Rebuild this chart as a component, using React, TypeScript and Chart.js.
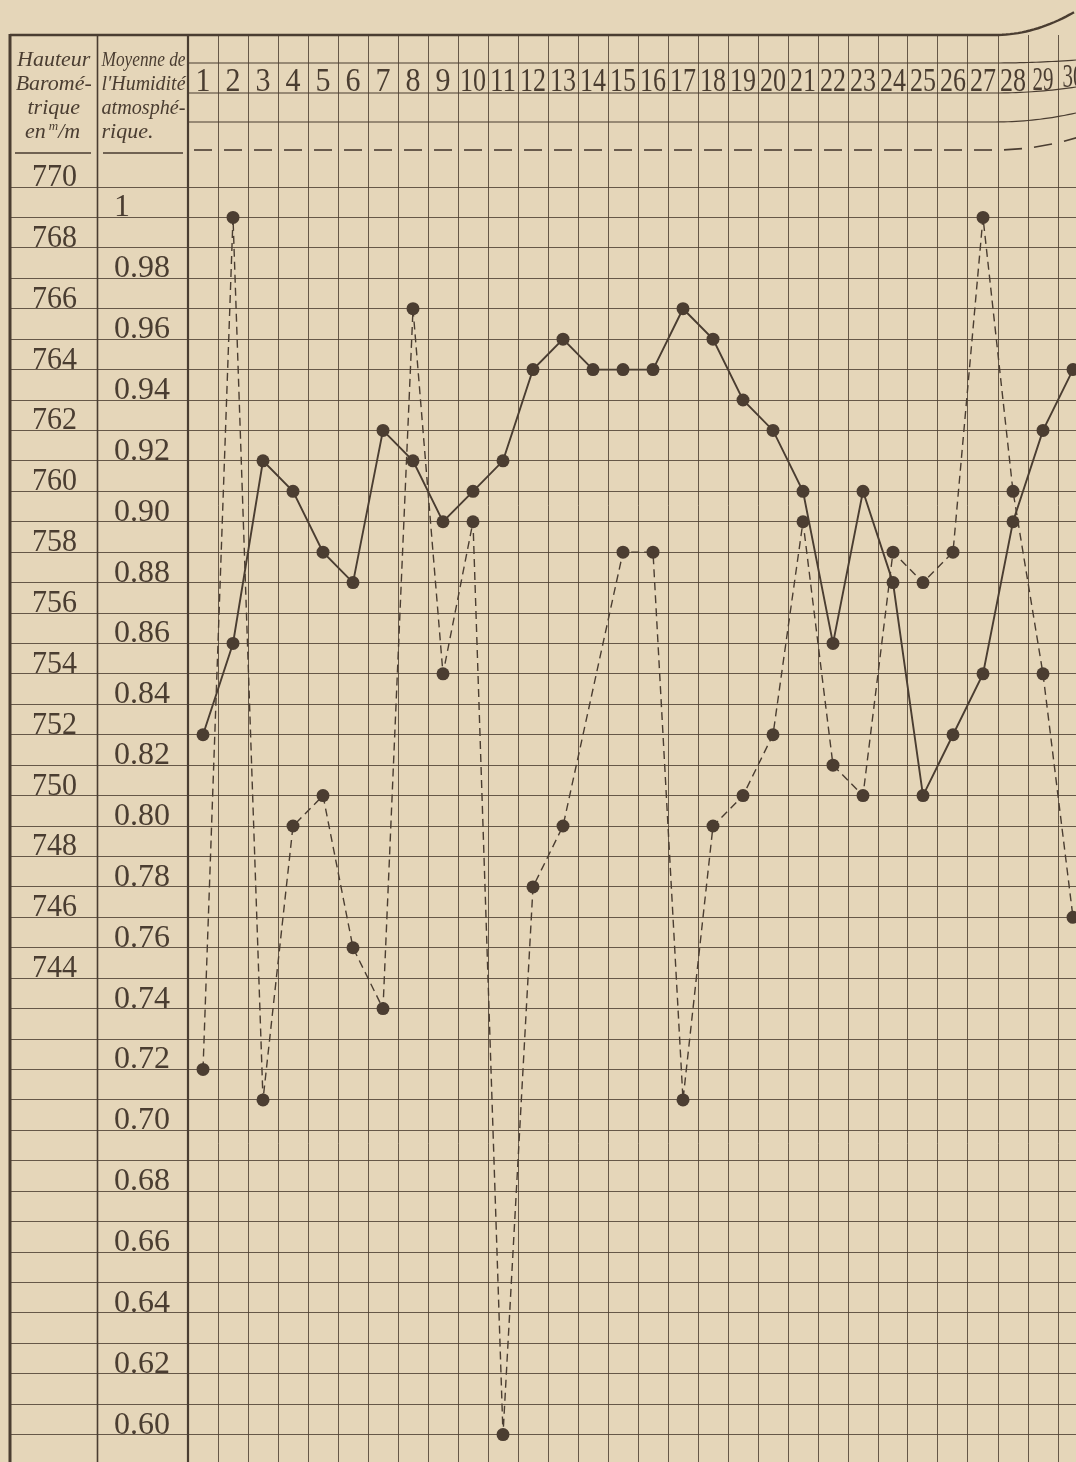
import React, { useEffect, useRef } from 'react';
import { Chart, registerables } from 'chart.js';

Chart.register(...registerables);

// ---- data ----
const days = [1, 2, 3, 4, 5, 6, 7, 8, 9, 10, 11, 12, 13, 14, 15, 16, 17, 18, 19, 20, 21, 22, 23, 24, 25, 26, 27, 28, 29, 30];
// Hauteur barométrique (mm) — solid line
const pressure = [752, 755, 761, 760, 758, 757, 762, 761, 759, 760, 761, 764, 765, 764, 764, 764, 766, 765, 763, 762, 760, 755, 760, 757, 750, 752, 754, 759, 762, 764];
// Moyenne de l'humidité atmosphérique — dashed line (day 14 not plotted)
const humidity = [0.72, 1.0, 0.71, 0.8, 0.81, 0.76, 0.74, 0.97, 0.85, 0.9, 0.6, 0.78, 0.8, null, 0.89, 0.89, 0.71, 0.8, 0.81, 0.83, 0.9, 0.82, 0.81, 0.89, 0.88, 0.89, 1.0, 0.91, 0.85, 0.77];
const pressureTicks = [770, 768, 766, 764, 762, 760, 758, 756, 754, 752, 750, 748, 746, 744];
const humidityTicks = ['1', '0.98', '0.96', '0.94', '0.92', '0.90', '0.88', '0.86', '0.84', '0.82', '0.80', '0.78', '0.76', '0.74', '0.72', '0.70', '0.68', '0.66', '0.64', '0.62', '0.60'];
const headerPressure = ['Hauteur', 'Baromé-', 'trique', 'en m/m'];
const headerHumidity = ['Moyenne de', "l'Humidité", 'atmosphé-', 'rique.'];

// ---- style ----
const W = 1076;
const H = 1462;
const paper = '#e5d6b9';
const ink = '#4a3d31';
const dot = '#4b3d31';
const gridColor = 'rgba(80, 66, 52, 0.85)';
const serif = '"Liberation Serif", "DejaVu Serif", serif';

const OUTER_LEFT = 10;
const TABLE_TOP = 35;
const COL_DIV = 97.5;
const HEADER_ROWS = [63, 93, 122];
const DASH_Y = 150;
const RULE_Y = 153;

function curl(x: number, amt: number) {
  return x > 995 ? amt * Math.pow((x - 995) / 81, 2) : 0;
}

const tablePlugin = {
  id: 'tableChrome',
  beforeDraw(chart: any) {
    const { ctx, width, height } = chart;
    ctx.save();
    ctx.fillStyle = paper;
    ctx.fillRect(0, 0, width, height);
    ctx.restore();
  },
  beforeDatasetsDraw(chart: any) {
    const { ctx, chartArea, scales } = chart;
    const xS = scales.x;
    const yP = scales.yP;
    const yH = scales.yH;
    const L = chartArea.left;
    const R = chart.width;
    const B = chart.height;
    ctx.save();
    ctx.strokeStyle = ink;
    ctx.fillStyle = ink;

    // header horizontal rules (day area)
    ctx.lineWidth = 1.2;
    HEADER_ROWS.forEach((y, k) => {
      ctx.beginPath();
      for (let x = L; x <= R; x += 4) {
        const yy = y - curl(x, 3 + k * 3);
        if (x === L) ctx.moveTo(x, yy); else ctx.lineTo(x, yy);
      }
      ctx.stroke();
    });

    // dashes in the last header row
    ctx.lineWidth = 1.6;
    days.forEach((d) => {
      const cx = xS.getPixelForValue(d);
      ctx.beginPath();
      ctx.moveTo(cx - 9, DASH_Y - curl(cx - 9, 12));
      ctx.lineTo(cx + 9, DASH_Y - curl(cx + 9, 12));
      ctx.stroke();
    });

    // day numbers
    ctx.textAlign = 'center';
    ctx.textBaseline = 'alphabetic';
    ctx.font = `33px ${serif}`;
    days.forEach((d) => {
      const cx = xS.getPixelForValue(d);
      const t = String(d);
      ctx.fillText(t, cx, 91 - curl(cx, 4), t.length === 1 ? 15 : d >= 29 ? 21 : 26);
    });

    // left column headers
    ctx.font = `italic 22px ${serif}`;
    const base = [66, 90, 114, 138];
    headerPressure.forEach((t, i) => {
      if (t === 'en m/m') {
        ctx.textAlign = 'left';
        const x0 = 25;
        ctx.font = `italic 22px ${serif}`;
        ctx.fillText('en', x0, base[i]);
        let w = ctx.measureText('en').width + 3;
        ctx.font = `italic 13px ${serif}`;
        ctx.fillText('m', x0 + w, base[i] - 8);
        w += ctx.measureText('m').width;
        ctx.font = `italic 22px ${serif}`;
        ctx.fillText('/m', x0 + w, base[i]);
      } else {
        ctx.textAlign = 'center';
        ctx.fillText(t, (OUTER_LEFT + COL_DIV) / 2, base[i], 80);
      }
    });
    ctx.textAlign = 'left';
    ctx.font = `italic 22px ${serif}`;
    headerHumidity.forEach((t, i) => {
      ctx.fillText(t, COL_DIV + 4, base[i], 84);
    });

    // short rules under the column headers
    ctx.lineWidth = 1.4;
    ctx.beginPath();
    ctx.moveTo(15, RULE_Y);
    ctx.lineTo(91, RULE_Y);
    ctx.moveTo(103, RULE_Y);
    ctx.lineTo(183, RULE_Y);
    ctx.stroke();

    // scale labels in the two left columns
    ctx.textAlign = 'left';
    ctx.font = `32px ${serif}`;
    pressureTicks.forEach((v) => {
      ctx.fillText(String(v), 32, yP.getPixelForValue(v) - 1, 45);
    });
    humidityTicks.forEach((t) => {
      ctx.fillText(t, 114, yH.getPixelForValue(parseFloat(t)) - 1);
    });

    // table borders
    ctx.lineWidth = 3;
    ctx.beginPath();
    ctx.moveTo(OUTER_LEFT, TABLE_TOP - 1);
    ctx.lineTo(OUTER_LEFT, B);
    ctx.stroke();
    ctx.lineWidth = 2.4;
    ctx.beginPath();
    for (let x = OUTER_LEFT; x <= R; x += 4) {
      const yy = TABLE_TOP - curl(x, 24);
      if (x === OUTER_LEFT) ctx.moveTo(x, yy); else ctx.lineTo(x, yy);
    }
    ctx.stroke();
    ctx.lineWidth = 1.6;
    ctx.beginPath();
    ctx.moveTo(COL_DIV, TABLE_TOP);
    ctx.lineTo(COL_DIV, B);
    ctx.stroke();
    ctx.lineWidth = 2.2;
    ctx.beginPath();
    ctx.moveTo(L, TABLE_TOP);
    ctx.lineTo(L, B);
    ctx.stroke();
    ctx.restore();
  },
};

export default function App() {
  const ref = useRef<HTMLCanvasElement | null>(null);

  useEffect(() => {
    if (!ref.current) return;
    const chart = new Chart(ref.current, {
      type: 'line',
      data: {
        datasets: [
          {
            label: 'Hauteur barométrique',
            data: days.map((d, i) => ({ x: d, y: pressure[i] })),
            yAxisID: 'yP',
            borderColor: ink,
            borderWidth: 1.9,
            pointRadius: 6.5,
            pointBackgroundColor: dot,
            pointBorderWidth: 0,
            tension: 0,
          },
          {
            label: "Moyenne de l'humidité",
            data: days.map((d, i) => ({ x: d, y: humidity[i] })),
            yAxisID: 'yH',
            borderColor: ink,
            borderWidth: 1.4,
            borderDash: [8, 5],
            pointRadius: 6.5,
            pointBackgroundColor: dot,
            pointBorderWidth: 0,
            tension: 0,
            spanGaps: true,
          },
        ],
      } as any,
      options: {
        responsive: false,
        animation: false,
        devicePixelRatio: 1,
        layout: { padding: { left: OUTER_LEFT - 1, top: TABLE_TOP, right: 0, bottom: 0 }, autoPadding: false },
        plugins: { legend: { display: false }, tooltip: { enabled: false }, title: { display: false } },
        scales: {
          x: {
            type: 'linear',
            position: 'top',
            min: 0.5,
            max: 30.1,
            afterBuildTicks: (s: any) => {
              s.ticks = days.map((d) => ({ value: d - 0.5 }));
            },
            ticks: { display: false },
            grid: { color: gridColor, lineWidth: 1, drawTicks: true, tickLength: 152 },
            border: { display: false },
          },
          yP: {
            type: 'linear',
            position: 'left',
            min: 728.1,
            max: 770,
            ticks: { display: false, stepSize: 1, includeBounds: false },
            grid: { color: gridColor, lineWidth: 1, drawTicks: true, tickLength: 179 },
            border: { display: false },
          },
          yH: {
            type: 'linear',
            position: 'left',
            display: false,
            min: 0.591,
            max: 1.01,
          },
        },
      } as any,
      plugins: [tablePlugin],
    });
    return () => chart.destroy();
  }, []);

  return (
    <div style={{ position: 'absolute', left: 0, top: 0, width: W, height: H, overflow: 'hidden' }}>
      <canvas ref={ref} width={W} height={H} style={{ width: W, height: H, display: 'block' }} />
    </div>
  );
}
